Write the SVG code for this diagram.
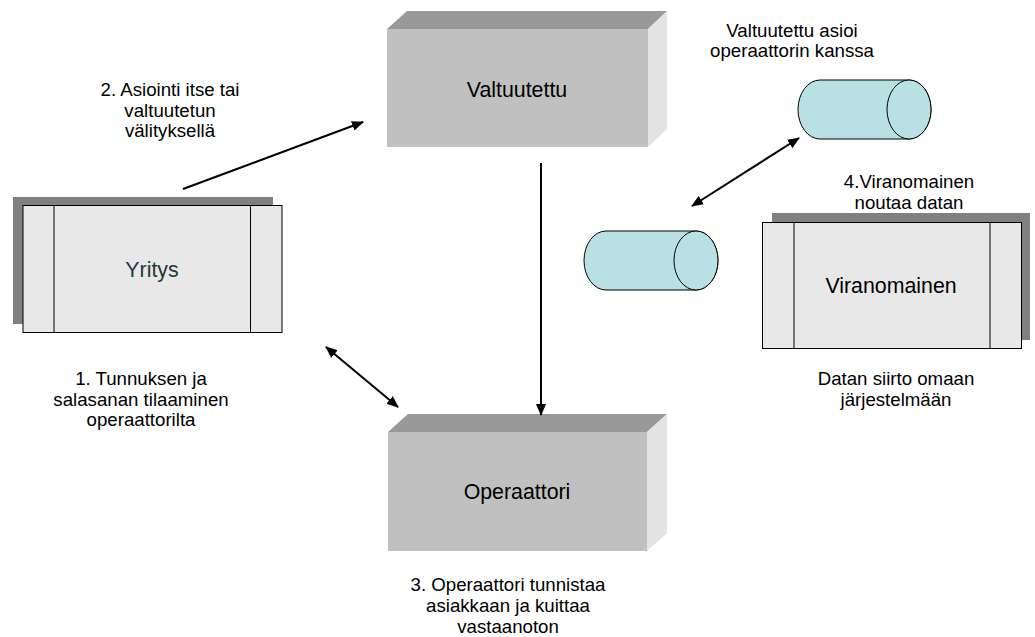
<svg xmlns="http://www.w3.org/2000/svg" width="1035" height="637" viewBox="0 0 1035 637">
  <defs>
    <marker id="arrow" viewBox="0 0 12 10" refX="11" refY="5" markerWidth="12" markerHeight="10" markerUnits="userSpaceOnUse" orient="auto-start-reverse">
      <path d="M0,0 L12,5 L0,10 Z" fill="#000"/>
    </marker>
  </defs>
  <style>
    text { font-family: "Liberation Sans", Arial, sans-serif; fill: #000; }
    .lbl { font-size: 18.67px; text-anchor: middle; }
    .node { font-size: 21.33px; text-anchor: middle; }
    .top { fill: #999999; }
    .front { fill: #c0c0c0; }
    .side { fill: #e3e3e3; }
    .shadow { fill: #808080; }
    .card { fill: #e8e8e8; stroke: #000; stroke-width: 1; }
    .div { stroke: #000; stroke-width: 1; }
    .cyl { fill: #b9e0e3; stroke: #000; stroke-width: 1; }
    .conn { stroke: #000; stroke-width: 2; fill: none; }
  </style>

  <rect width="1035" height="637" fill="#fff"/>

  <!-- Valtuutettu: 3D block -->
  <g id="valtuutettu">
    <polygon class="top" points="387,29 407,11 667,11 648,29"/>
    <polygon class="side" points="648,29 667,11 667,129 648,147"/>
    <rect class="front" x="387" y="29" width="261" height="118"/>
    <text class="node" x="517" y="97">Valtuutettu</text>
  </g>

  <!-- Operaattori: 3D block -->
  <g id="operaattori">
    <polygon class="top" points="388,432 408,414 667,414 647,432"/>
    <polygon class="side" points="647,432 667,414 667,533 647,551"/>
    <rect class="front" x="388" y="432" width="259" height="119"/>
    <text class="node" x="517" y="499">Operaattori</text>
  </g>

  <!-- Yritys: card with shadow -->
  <g id="yritys">
    <rect class="shadow" x="13" y="197" width="260" height="127"/>
    <rect class="card" x="23" y="205.5" width="259" height="127"/>
    <line class="div" x1="54" y1="205.5" x2="54" y2="332.5"/>
    <line class="div" x1="250.5" y1="205.5" x2="250.5" y2="332.5"/>
    <text class="node" x="152" y="277" style="fill:#1e3a3a">Yritys</text>
  </g>

  <!-- Viranomainen: card with shadow -->
  <g id="viranomainen">
    <rect class="shadow" x="772" y="213" width="258" height="127"/>
    <rect class="card" x="762.5" y="222.5" width="259" height="126"/>
    <line class="div" x1="794" y1="222.5" x2="794" y2="348.5"/>
    <line class="div" x1="990" y1="222.5" x2="990" y2="348.5"/>
    <text class="node" x="891" y="293">Viranomainen</text>
  </g>

  <!-- Upper data store -->
  <g id="cylinder-upper">
    <path class="cyl" d="M820,80 L909,80 A22,29.5 0 0 1 909,139 L820,139 A22,29.5 0 0 1 820,80 Z"/>
    <ellipse class="cyl" cx="909" cy="109.5" rx="22" ry="29.5"/>
  </g>

  <!-- Lower data store -->
  <g id="cylinder-lower">
    <path class="cyl" d="M606,231 L696,231 A22,29.5 0 0 1 696,290 L606,290 A22,29.5 0 0 1 606,231 Z"/>
    <ellipse class="cyl" cx="696" cy="260.5" rx="22" ry="29.5"/>
  </g>

  <!-- Connectors -->
  <g id="connectors">
    <line class="conn" x1="183" y1="189" x2="363" y2="122" marker-end="url(#arrow)"/>
    <line class="conn" x1="541" y1="163" x2="541" y2="415" marker-end="url(#arrow)"/>
    <line class="conn" x1="326" y1="347" x2="398" y2="407" marker-start="url(#arrow)" marker-end="url(#arrow)"/>
    <line class="conn" x1="692" y1="206" x2="799" y2="138" marker-start="url(#arrow)" marker-end="url(#arrow)"/>
  </g>

  <!-- Step labels -->
  <g id="labels">
    <text class="lbl" x="170" y="96">2. Asiointi itse tai</text>
    <text class="lbl" x="170" y="117">valtuutetun</text>
    <text class="lbl" x="170" y="137">välityksellä</text>

    <text class="lbl" x="792" y="37">Valtuutettu asioi</text>
    <text class="lbl" x="792" y="57">operaattorin kanssa</text>

    <text class="lbl" x="909" y="188">4.Viranomainen</text>
    <text class="lbl" x="909" y="209">noutaa datan</text>

    <text class="lbl" x="141" y="385">1. Tunnuksen ja</text>
    <text class="lbl" x="141" y="405.5">salasanan tilaaminen</text>
    <text class="lbl" x="141" y="426">operaattorilta</text>

    <text class="lbl" x="896" y="385">Datan siirto omaan</text>
    <text class="lbl" x="896" y="406">järjestelmään</text>

    <text class="lbl" x="508" y="591">3. Operaattori tunnistaa</text>
    <text class="lbl" x="508" y="612">asiakkaan ja kuittaa</text>
    <text class="lbl" x="508" y="633">vastaanoton</text>
  </g>
</svg>
